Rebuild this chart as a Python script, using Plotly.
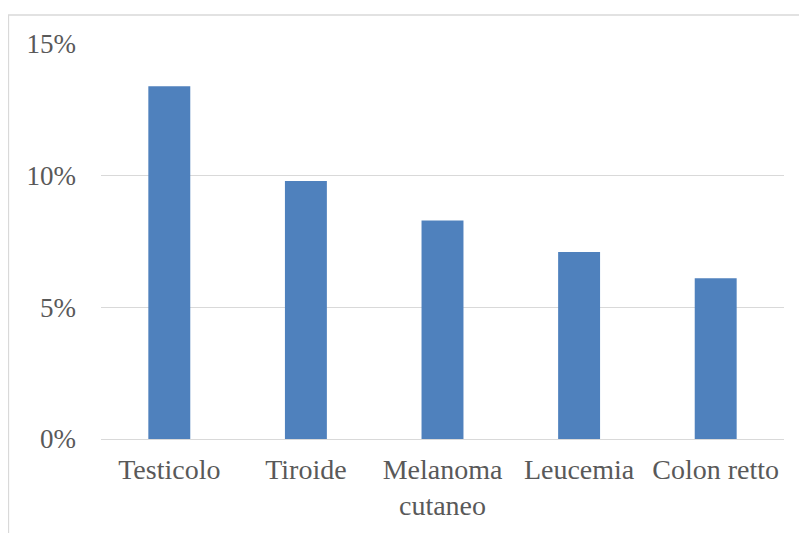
import plotly.graph_objects as go

categories = ["Testicolo", "Tiroide", "Melanoma<br>cutaneo", "Leucemia", "Colon retto"]
values = [0.134, 0.098, 0.083, 0.071, 0.061]
tick_vals = [0, 0.05, 0.10, 0.15]
tick_text = ["0%", "5%", "10%", "15%"]

fig = go.Figure(go.Bar(x=categories, y=values, marker=dict(color="#4F81BD", line=dict(width=0)), width=0.307))

# page places the figure at (8, 8)
W, H = 807, 533
L, R, T, B = 93, 31, 36, 102
pw, ph = W - L - R, H - T - B

fig.update_layout(
    width=W, height=H,
    margin=dict(l=L, r=R, t=T, b=B, pad=0),
    paper_bgcolor="white", plot_bgcolor="white",
    font=dict(family="Liberation Serif, Times New Roman, serif", size=27, color="#595959"),
    showlegend=False,
    bargap=0.693,
)
fig.update_yaxes(range=[0, 0.15], tickvals=tick_vals, ticktext=tick_text,
                 showgrid=True, gridcolor="#D9D9D9", gridwidth=1.3,
                 zeroline=False, showline=False, ticks="", ticklabelstandoff=24,
                 tickfont=dict(size=27, color="#595959"), fixedrange=True)
fig.update_xaxes(showline=True, linecolor="#D9D9D9", linewidth=1.3, ticks="",
                 ticklabelstandoff=5, tickfont=dict(size=28, color="#595959"), fixedrange=True)

# outer chart border (partly cropped, as in the reference)
fig.add_shape(type="rect", xref="paper", yref="paper",
              x0=(0.5 - L) / pw, x1=(W + 20 - L) / pw,
              y0=-(H + 20 - (T + ph)) / ph, y1=(T + ph - 7) / ph,
              line=dict(color="#D9D9D9", width=1.3), fillcolor="rgba(0,0,0,0)", layer="below")

fig.write_html("out.html")
